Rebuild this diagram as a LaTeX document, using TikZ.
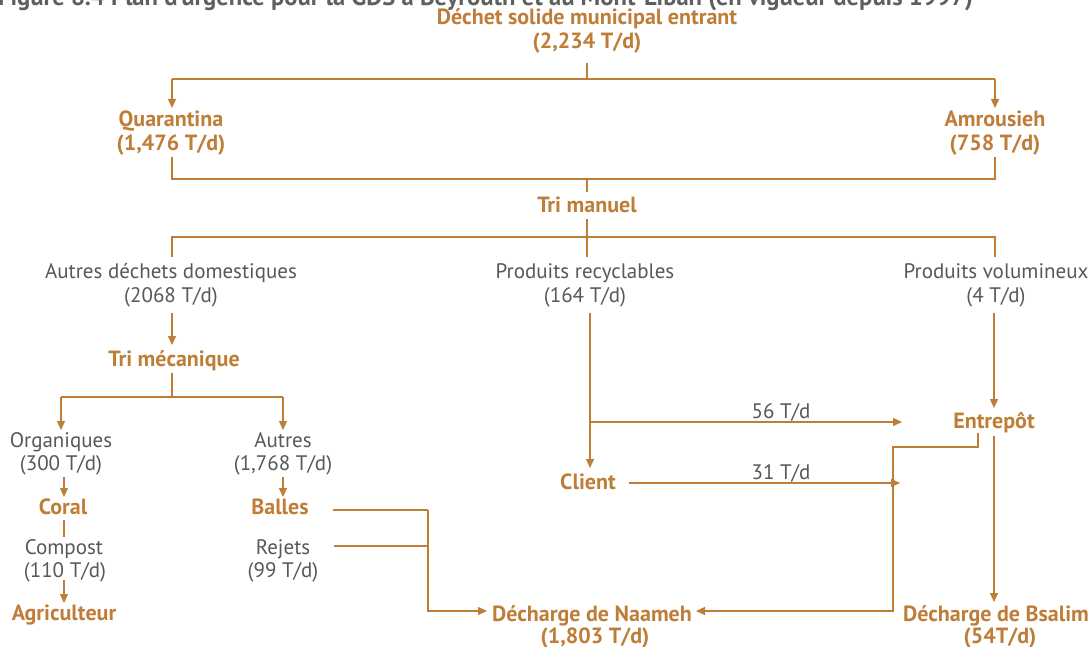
\documentclass[tikz,border=0pt]{standalone}
\usepackage{fontspec}
\setmainfont{PT Sans}
\usetikzlibrary{arrows.meta}
\definecolor{ocre}{RGB}{190,126,56}
\definecolor{txtgray}{RGB}{88,88,88}
\definecolor{ttlgray}{RGB}{95,95,95}
\begin{document}
\begin{tikzpicture}[x=1pt,y=-1pt,
  ln/.style={draw=ocre,line width=1.2pt},
  arr/.style={ln,-{Triangle[length=9pt,width=8pt]}},
  hd/.style={font=\fontsize{22}{26}\selectfont\bfseries,text=ocre,inner sep=0pt,anchor=base},
  lb/.style={font=\fontsize{21}{25}\selectfont,text=txtgray,inner sep=0pt,anchor=base},
  ttl/.style={font=\fontsize{24.6}{28}\selectfont\bfseries,text=ttlgray,inner sep=0pt,anchor=base east},
]
\useasboundingbox (0,0) rectangle (1091,647);
\clip (0,0) rectangle (1091,647);
\fill[white] (0,0) rectangle (1091,647);

% title
\node[ttl] (title) at (973,6) {Figure 8.4 Plan d'urgence pour la GDS à Beyrouth et au Mont-Liban (en vigueur depuis 1997)};

% nodes
\node[hd] (top) at (587,25) {Déchet solide municipal entrant};
\node[hd] (topv) at (587,49) {(2,234 T/d)};
\node[hd] (quar) at (171,127) {Quarantina};
\node[hd] (quarv) at (171,151) {(1,476 T/d)};
\node[hd] (amro) at (995,127) {Amrousieh};
\node[hd] (amrov) at (995,151) {(758 T/d)};
\node[hd] (trim) at (587,212) {Tri manuel};
\node[lb] (autd) at (171,278) {Autres déchets domestiques};
\node[lb] (autdv) at (171,302) {(2068 T/d)};
\node[lb] (recy) at (585,278) {Produits recyclables};
\node[lb] (recyv) at (585,302) {(164 T/d)};
\node[lb] (volu) at (996,278) {Produits volumineux};
\node[lb] (voluv) at (996,302) {(4 T/d)};
\node[hd] (meca) at (174,366) {Tri mécanique};
\node[lb] (orga) at (61,447) {Organiques};
\node[lb] (orgav) at (61,470) {(300 T/d)};
\node[hd] (coral) at (63,514) {Coral};
\node[lb] (comp) at (64,554) {Compost};
\node[lb] (compv) at (65,577) {(110 T/d)};
\node[hd] (agri) at (64,620) {Agriculteur};
\node[lb] (autr) at (283,447) {Autres};
\node[lb] (autrv) at (283,470) {(1,768 T/d)};
\node[hd] (balles) at (280,514) {Balles};
\node[lb] (rejets) at (283,554) {Rejets};
\node[lb] (rejetsv) at (283,577) {(99 T/d)};
\node[hd] (client) at (588,489) {Client};
\node[hd] (entre) at (994,428) {Entrepôt};
\node[hd] (naam) at (592,621) {Décharge de Naameh};
\node[hd] (naamv) at (595,643) {(1,803 T/d)};
\node[hd] (bsal) at (996,621) {Décharge de Bsalim};
\node[hd] (bsalv) at (1000,643) {(54T/d)};
\node[lb] (f56) at (781,418) {56 T/d};
\node[lb] (f31) at (781,479) {31 T/d};

% junction coordinates
\coordinate (a0) at (587,63);
\coordinate (a1) at (587,79);
\coordinate (aL) at (172,79);
\coordinate (aR) at (995,79);
\coordinate (qT) at (172,108);
\coordinate (rT) at (995,108);
\coordinate (qB) at (172,157);
\coordinate (rB) at (995,157);
\coordinate (bL) at (172,179);
\coordinate (bR) at (995,179);
\coordinate (bC) at (587,179);
\coordinate (bC2) at (587,192);
\coordinate (c0) at (587,219);
\coordinate (c1) at (587,257);
\coordinate (cL) at (172,237);
\coordinate (cR) at (995,237);
\coordinate (cL2) at (172,257);
\coordinate (cR2) at (995,257);
\coordinate (d0) at (172,313);
\coordinate (d1) at (172,345);
\coordinate (e0) at (172,373);
\coordinate (e1) at (172,397);
\coordinate (eL) at (61,397);
\coordinate (eR) at (283,397);
\coordinate (eL2) at (61,430);
\coordinate (eR2) at (283,430);
\coordinate (o0) at (64,477);
\coordinate (o1) at (64,497);
\coordinate (o2) at (64,520);
\coordinate (o3) at (64,537);
\coordinate (o4) at (64,580);
\coordinate (o5) at (64,603);
\coordinate (t0) at (283,477);
\coordinate (t1) at (283,497);
\coordinate (ba0) at (333,510);
\coordinate (ba1) at (428,510);
\coordinate (re0) at (334,546);
\coordinate (re1) at (428,546);
\coordinate (nm0) at (428,611);
\coordinate (nmL) at (487,611);
\coordinate (p0) at (590,313);
\coordinate (p1) at (590,468);
\coordinate (p2) at (590,422);
\coordinate (p3) at (902,422);
\coordinate (cl0) at (629,483);
\coordinate (cl1) at (900,483);
\coordinate (v0) at (994,313);
\coordinate (v1) at (994,408);
\coordinate (en0) at (978,433);
\coordinate (en1) at (978,447);
\coordinate (en2) at (893,447);
\coordinate (en3) at (893,611);
\coordinate (nmR) at (696,611);
\coordinate (bs0) at (994,436);
\coordinate (bs1) at (994,602);

% connectors
\draw[ln] (a0) -- (a1);
\draw[ln] (aL) -- (aR);
\draw[arr] (aL) -- (qT);
\draw[arr] (aR) -- (rT);
\draw[ln] (qB) -- (bL) -- (bR) -- (rB);
\draw[ln] (bC) -- (bC2);
\draw[ln] (c0) -- (c1);
\draw[ln] (cL2) -- (cL) -- (cR) -- (cR2);
\draw[arr] (d0) -- (d1);
\draw[ln] (e0) -- (e1);
\draw[ln] (eL) -- (eR);
\draw[arr] (eL) -- (eL2);
\draw[arr] (eR) -- (eR2);
\draw[arr] (o0) -- (o1);
\draw[ln] (o2) -- (o3);
\draw[arr] (o4) -- (o5);
\draw[arr] (t0) -- (t1);
\draw[ln] (ba0) -- (ba1);
\draw[ln] (re0) -- (re1);
\draw[arr] (ba1) -- (nm0) -- (nmL);
\draw[arr] (p0) -- (p1);
\draw[arr] (p2) -- (p3);
\draw[arr] (cl0) -- (cl1);
\draw[arr] (v0) -- (v1);
\draw[arr] (en0) -- (en1) -- (en2) -- (en3) -- (nmR);
\draw[arr] (bs0) -- (bs1);
\end{tikzpicture}
\end{document}
